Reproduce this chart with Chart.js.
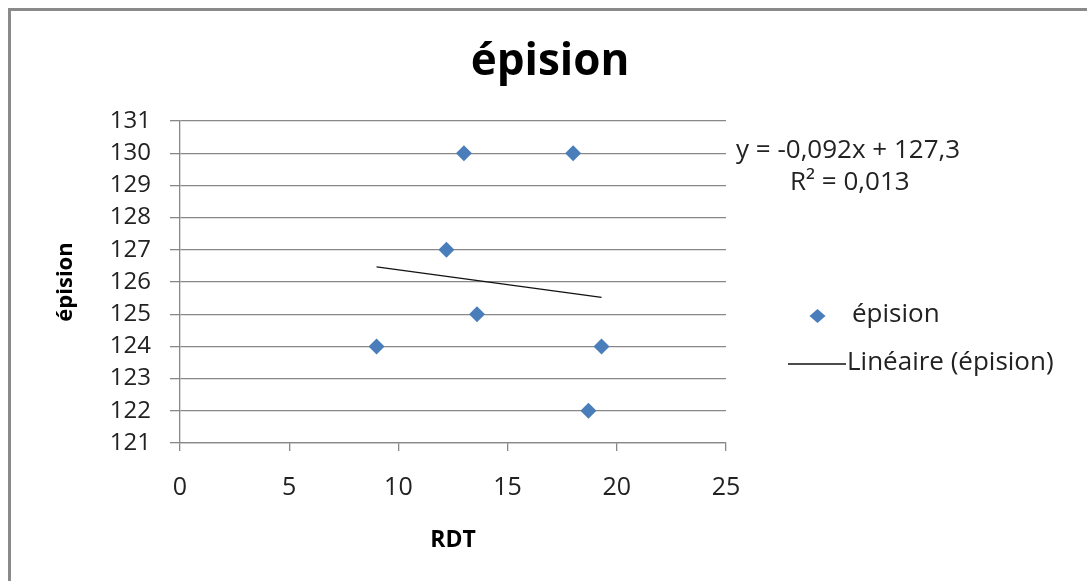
<!DOCTYPE html>
<html>
<head>
<meta charset="utf-8">
<script src="https://cdn.jsdelivr.net/npm/chart.js@4/dist/chart.umd.min.js"></script>
<style>
  html, body { margin: 0; padding: 0; background: #fff; }
  #wrap { position: relative; width: 1087px; height: 581px; overflow: hidden; }
  #frame { position: absolute; left: 8px; top: 8px; width: 1200px; height: 700px;
           border-left: 3px solid #8a8a8a; border-top: 3px solid #8a8a8a; }
  canvas { position: absolute; left: 0; top: 0; }
</style>
</head>
<body>
<div id="wrap">
  <div id="frame"></div>
  <canvas id="c" width="1087" height="581"></canvas>
</div>
<script>
// ---- data ----
const chartTitle = "épision";
const xAxisTitle = "RDT";
const yAxisTitle = "épision";
const seriesName = "épision";
const trendName = "Linéaire (épision)";
const equationLines = ["y = -0,092x + 127,3", "R² = 0,013"];

const rdtValues = [13, 18, 12.2, 13.6, 9, 19.3, 18.7];
const episionValues = [130, 130, 127, 125, 124, 124, 122];

const trendX = [9, 19.3];
const trendY = [126.47, 125.52];

const xTickMin = 0, xTickMax = 25, xTickStep = 5;
const yTickMin = 121, yTickMax = 131, yTickStep = 1;

const pointColor = "#4a7ebb";
const gridColor = "#888888";
const textColor = "#222222";
const FONT = "'Open Sans', 'DejaVu Sans', sans-serif";

const scatterData = rdtValues.map((x, i) => ({ x: x, y: episionValues[i] }));
const trendData = trendX.map((x, i) => ({ x: x, y: trendY[i] }));

const overlay = {
  id: 'overlay',
  afterDraw(chart) {
    const ctx = chart.ctx;
    ctx.save();
    ctx.fillStyle = '#000';
    ctx.textBaseline = 'middle';
    // title
    ctx.font = "bold 44px " + FONT;
    ctx.textAlign = 'center';
    ctx.fillText(chartTitle, 550, 62);
    // equation
    ctx.font = "26px " + FONT;
    ctx.fillStyle = textColor;
    ctx.textAlign = 'left';
    ctx.fillText(equationLines[0], 736, 151);
    ctx.fillText(equationLines[1], 790, 183);
    // legend: marker
    const ds = chart.data.datasets[0];
    ctx.fillStyle = ds.backgroundColor;
    ctx.beginPath();
    ctx.moveTo(817.5 - 8, 316);
    ctx.lineTo(817.5, 316 - 7);
    ctx.lineTo(817.5 + 8, 316);
    ctx.lineTo(817.5, 316 + 7);
    ctx.closePath();
    ctx.fill();
    ctx.fillStyle = textColor;
    ctx.fillText(seriesName, 852, 315);
    // legend: line
    ctx.strokeStyle = chart.data.datasets[1].borderColor;
    ctx.lineWidth = 1.3;
    ctx.beginPath();
    ctx.moveTo(788, 364);
    ctx.lineTo(846, 364);
    ctx.stroke();
    ctx.fillText(trendName, 847, 363);
    ctx.restore();
  }
};

new Chart(document.getElementById('c'), {
  type: 'scatter',
  data: {
    datasets: [
      {
        label: seriesName,
        data: scatterData,
        pointStyle: 'rectRot',
        pointRadius: 8,
        pointHoverRadius: 8,
        backgroundColor: pointColor,
        borderColor: pointColor,
        borderWidth: 0
      },
      {
        label: trendName,
        type: 'line',
        data: trendData,
        showLine: true,
        pointRadius: 0,
        borderColor: '#111111',
        borderWidth: 1.3,
        fill: false
      }
    ]
  },
  options: {
    responsive: false,
    animation: false,
    events: [],
    layout: { padding: { left: 0, top: 121, right: 361, bottom: 0 } },
    plugins: {
      legend: { display: false },
      title: { display: false },
      tooltip: { enabled: false }
    },
    scales: {
      x: {
        type: 'linear',
        min: xTickMin, max: xTickMax,
        ticks: { stepSize: xTickStep, autoSkip: false, color: textColor, font: { family: FONT, size: 25 }, padding: 22 },
        grid: { drawOnChartArea: false, drawTicks: true, tickLength: 8, color: gridColor, lineWidth: 1.3 },
        border: { display: true, color: gridColor, width: 1.3 },
        title: { display: true, text: xAxisTitle, color: '#000', font: { family: FONT, size: 23, weight: 'bold' }, padding: { top: 0, bottom: 27 } },
        afterFit(s) { s.height = 138; }
      },
      y: {
        type: 'linear',
        min: yTickMin, max: yTickMax,
        ticks: { stepSize: yTickStep, autoSkip: false, color: textColor, font: { family: FONT, size: 24 }, padding: 19 },
        grid: { drawOnChartArea: true, drawTicks: true, tickLength: 10, color: gridColor, lineWidth: 1.3 },
        border: { display: true, color: gridColor, width: 1.3 },
        title: { display: true, text: yAxisTitle, color: '#000', font: { family: FONT, size: 22, weight: 'bold' }, padding: { top: 53, bottom: 0 } },
        afterFit(s) { s.width = 180; }
      }
    }
  },
  plugins: [overlay]
});
</script>
</body>
</html>
